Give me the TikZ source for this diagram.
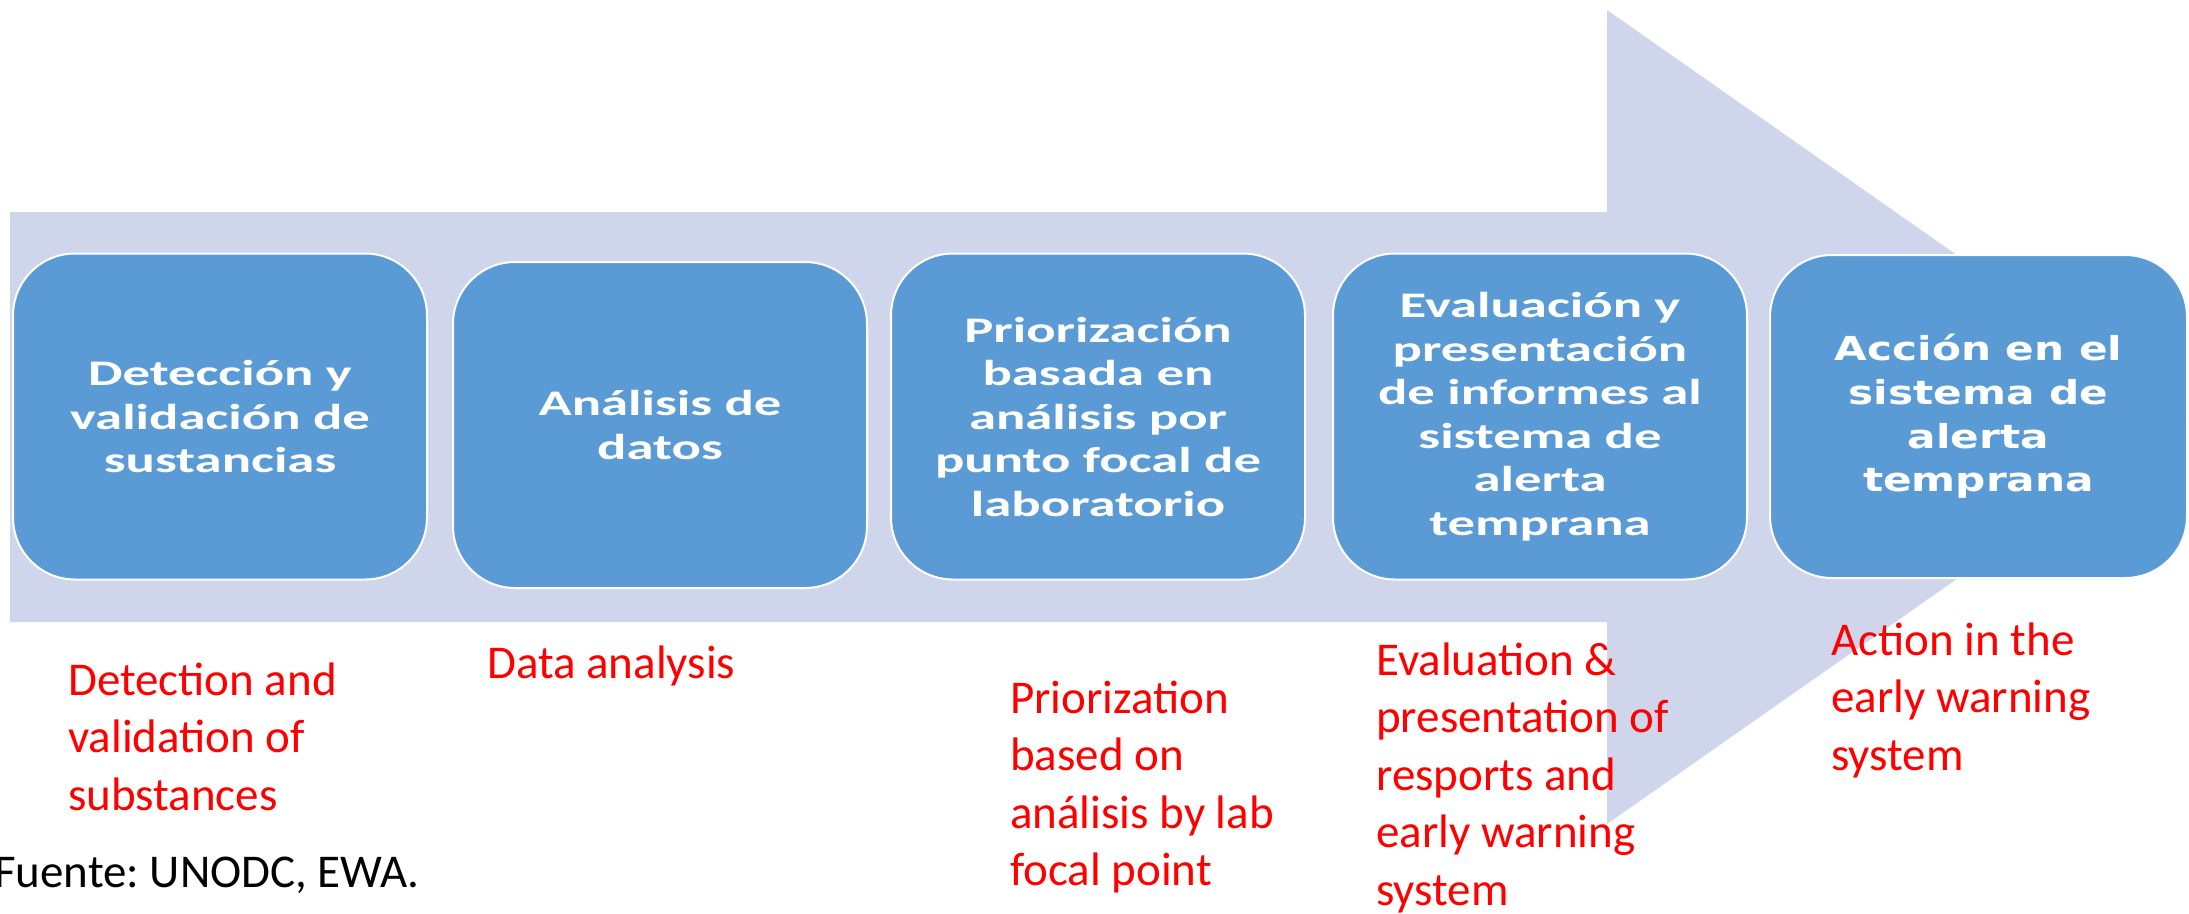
\documentclass[tikz,border=0pt]{standalone}
\usepackage{fontspec}
\setmainfont{Carlito}
\newfontfamily\boxfont[FakeStretch=1.52]{Carlito}
\newfontfamily\boxfontv[FakeStretch=1.28]{DejaVu Sans}
\definecolor{arrowfill}{HTML}{CFD5EA}
\definecolor{boxblue}{HTML}{5B9BD5}
\definecolor{labred}{HTML}{FF0000}
\newcommand{\mylines}[1]{\begin{tabular}[t]{@{}l@{}}#1\end{tabular}}
\begin{document}
\frenchspacing
\begin{tikzpicture}[x=1pt,y=-1pt,
  stepbox/.style={draw=white, line width=2pt, fill=boxblue, rounded corners=62pt,
    minimum width=414pt, minimum height=326pt, inner sep=0pt, text=white, align=center,
    font=\boxfont\bfseries\fontsize{36}{43.5}\selectfont},
  lastbox/.style={stepbox, minimum width=417pt, minimum height=323pt,
    font=\boxfontv\bfseries\fontsize{33}{43.7}\selectfont},
  lab/.style={anchor=base west, inner sep=0pt, text=labred,
    font=\frenchspacing\fontsize{47}{57.5}\selectfont}]
\useasboundingbox (0,0) rectangle (2189,913);
% big background arrow
\fill[arrowfill] (10,212) -- (1607,212) -- (1607,10) -- (2188,417) -- (1607,824) -- (1607,622) -- (10,622) -- cycle;
% process boxes
\node[stepbox] (b1) at (220,416.5) {Detección y\\validación de\\sustancias};
\node[stepbox] (b2) at (660,425) {Análisis de\\datos};
\node[stepbox] (b3) at (1098,416.5) {Priorización\\basada en\\análisis por\\punto focal de\\laboratorio};
\node[stepbox] (b4) at (1540,416.5) {Evaluación y\\presentación\\de informes al\\sistema de\\alerta\\temprana};
\node[lastbox] (b5) at (1978.5,416.5) {Acción en el\\sistema de\\alerta\\temprana};
% red English labels
\node[lab] (l1) at (68,695) {\mylines{Detection and\\validation of\\substances}};
\node[lab] (l2) at (487,678) {Data analysis};
\node[lab] (l3) at (1010,713) {\mylines{Priorization\\based on\\análisis by lab\\focal point}};
\node[lab] (l4) at (1376,675) {\mylines{Evaluation \&\\presentation of\\resports and\\early warning\\system}};
\node[lab] (l5) at (1831,655) {\mylines{Action in the\\early warning\\system}};
% source
\node[lab, text=black] (src) at (-6,887) {Fuente: UNODC, EWA.};
\end{tikzpicture}
\end{document}
